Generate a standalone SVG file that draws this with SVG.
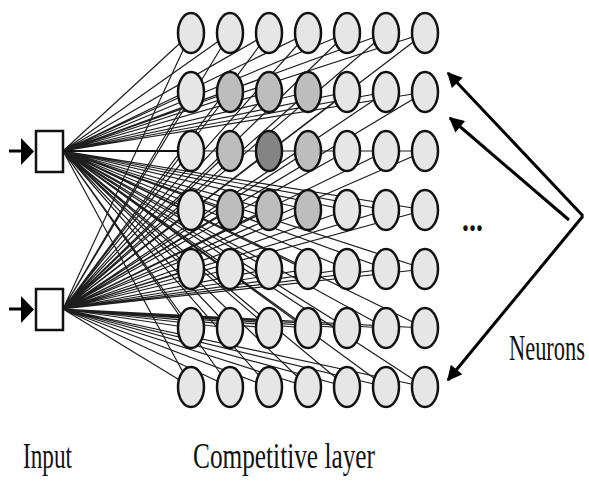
<svg xmlns="http://www.w3.org/2000/svg" width="589" height="481" viewBox="0 0 589 481">
<style>
.n{stroke:#111;stroke-width:2.5}
.l{fill:#e6e6e6}.m{fill:#bdbdbd}.d{fill:#848484}
.c{fill:none;stroke:#1e1e1e;stroke-width:1.2}
.a{fill:none;stroke:#000;stroke-width:3}
.t{font-family:"Liberation Serif","Times New Roman",serif;font-size:36px;fill:#111}
</style>
<defs>
<marker id="ah" viewBox="0 0 10 10" refX="9" refY="5" markerWidth="6" markerHeight="5" markerUnits="strokeWidth" orient="auto"><path d="M0 0L10 5L0 10Z" fill="#000"/></marker>
</defs>
<rect width="589" height="481" fill="#fff"/>
<g id="connectors">
<path class="c" d="M63 151L191 33M63 151L230 33M63 151L269 33M63 151L308 33M63 151L347 33M63 151L386 33M63 151L425 33M63 151L191 92M63 151L230 92M63 151L269 92M63 151L308 92M63 151L347 92M63 151L386 92M63 151L425 92M63 151L425 151M63 151L191 210M63 151L230 210M63 151L269 210M63 151L308 210M63 151L347 210M63 151L386 210M63 151L425 210M63 151L191 269M63 151L230 269M63 151L269 269M63 151L308 269M63 151L347 269M63 151L386 269M63 151L425 269M63 151L191 328M63 151L230 328M63 151L269 328M63 151L308 328M63 151L347 328M63 151L386 328M63 151L425 328M63 151L191 387M63 151L230 387M63 151L269 387M63 151L308 387M63 151L347 387M63 151L386 387M63 151L425 387"/>
<path class="c" d="M63 309L191 33M63 309L230 33M63 309L269 33M63 309L308 33M63 309L347 33M63 309L386 33M63 309L425 33M63 309L191 92M63 309L230 92M63 309L269 92M63 309L308 92M63 309L347 92M63 309L386 92M63 309L425 92M63 309L191 151M63 309L230 151M63 309L269 151M63 309L308 151M63 309L347 151M63 309L386 151M63 309L425 151M63 309L191 210M63 309L230 210M63 309L269 210M63 309L308 210M63 309L347 210M63 309L386 210M63 309L425 210M63 309L191 269M63 309L230 269M63 309L269 269M63 309L308 269M63 309L347 269M63 309L386 269M63 309L425 269M63 309L191 328M63 309L230 328M63 309L269 328M63 309L308 328M63 309L347 328M63 309L386 328M63 309L425 328M63 309L191 387M63 309L230 387M63 309L269 387M63 309L308 387M63 309L347 387M63 309L386 387M63 309L425 387"/>
<path d="M63 151L191 151" stroke="#111" stroke-width="2" fill="none"/>
<path class="a" d="M9 151H24" /><path d="M21 138L34 151.5L21 165Z" fill="#000"/>
<path class="a" d="M9 309H24" /><path d="M21 296L34 309.5L21 323Z" fill="#000"/>
<path class="a" d="M583 216L448 73" marker-end="url(#ah)"/>
<path class="a" d="M569 220L450 118" marker-end="url(#ah)"/>
<path class="a" d="M583 216L448 380" marker-end="url(#ah)"/>
</g>
<g id="input1"><rect x="36" y="131" width="27" height="41" fill="#fff" stroke="#111" stroke-width="2.5"/></g>
<g id="input2"><rect x="36" y="289" width="27" height="41" fill="#fff" stroke="#111" stroke-width="2.5"/></g>
<g id="r1">
<g id="n11"><ellipse class="n l" cx="191" cy="33" rx="13" ry="20"/></g>
<g id="n12"><ellipse class="n l" cx="230" cy="33" rx="13" ry="20"/></g>
<g id="n13"><ellipse class="n l" cx="269" cy="33" rx="13" ry="20"/></g>
<g id="n14"><ellipse class="n l" cx="308" cy="33" rx="13" ry="20"/></g>
<g id="n15"><ellipse class="n l" cx="347" cy="33" rx="13" ry="20"/></g>
<g id="n16"><ellipse class="n l" cx="386" cy="33" rx="13" ry="20"/></g>
<g id="n17"><ellipse class="n l" cx="425" cy="33" rx="13" ry="20"/></g>
</g>
<g id="r2">
<g id="n21"><ellipse class="n l" cx="191" cy="92" rx="13" ry="20"/></g>
<g id="n22"><ellipse class="n m" cx="230" cy="92" rx="13" ry="20"/></g>
<g id="n23"><ellipse class="n m" cx="269" cy="92" rx="13" ry="20"/></g>
<g id="n24"><ellipse class="n m" cx="308" cy="92" rx="13" ry="20"/></g>
<g id="n25"><ellipse class="n l" cx="347" cy="92" rx="13" ry="20"/></g>
<g id="n26"><ellipse class="n l" cx="386" cy="92" rx="13" ry="20"/></g>
<g id="n27"><ellipse class="n l" cx="425" cy="92" rx="13" ry="20"/></g>
</g>
<g id="r3">
<g id="n31"><ellipse class="n l" cx="191" cy="151" rx="13" ry="20"/></g>
<g id="n32"><ellipse class="n m" cx="230" cy="151" rx="13" ry="20"/></g>
<g id="n33"><ellipse class="n d" cx="269" cy="151" rx="13" ry="20"/></g>
<g id="n34"><ellipse class="n m" cx="308" cy="151" rx="13" ry="20"/></g>
<g id="n35"><ellipse class="n l" cx="347" cy="151" rx="13" ry="20"/></g>
<g id="n36"><ellipse class="n l" cx="386" cy="151" rx="13" ry="20"/></g>
<g id="n37"><ellipse class="n l" cx="425" cy="151" rx="13" ry="20"/></g>
</g>
<g id="r4">
<g id="n41"><ellipse class="n l" cx="191" cy="210" rx="13" ry="20"/></g>
<g id="n42"><ellipse class="n m" cx="230" cy="210" rx="13" ry="20"/></g>
<g id="n43"><ellipse class="n m" cx="269" cy="210" rx="13" ry="20"/></g>
<g id="n44"><ellipse class="n m" cx="308" cy="210" rx="13" ry="20"/></g>
<g id="n45"><ellipse class="n l" cx="347" cy="210" rx="13" ry="20"/></g>
<g id="n46"><ellipse class="n l" cx="386" cy="210" rx="13" ry="20"/></g>
<g id="n47"><ellipse class="n l" cx="425" cy="210" rx="13" ry="20"/></g>
</g>
<g id="r5">
<g id="n51"><ellipse class="n l" cx="191" cy="269" rx="13" ry="20"/></g>
<g id="n52"><ellipse class="n l" cx="230" cy="269" rx="13" ry="20"/></g>
<g id="n53"><ellipse class="n l" cx="269" cy="269" rx="13" ry="20"/></g>
<g id="n54"><ellipse class="n l" cx="308" cy="269" rx="13" ry="20"/></g>
<g id="n55"><ellipse class="n l" cx="347" cy="269" rx="13" ry="20"/></g>
<g id="n56"><ellipse class="n l" cx="386" cy="269" rx="13" ry="20"/></g>
<g id="n57"><ellipse class="n l" cx="425" cy="269" rx="13" ry="20"/></g>
</g>
<g id="r6">
<g id="n61"><ellipse class="n l" cx="191" cy="328" rx="13" ry="20"/></g>
<g id="n62"><ellipse class="n l" cx="230" cy="328" rx="13" ry="20"/></g>
<g id="n63"><ellipse class="n l" cx="269" cy="328" rx="13" ry="20"/></g>
<g id="n64"><ellipse class="n l" cx="308" cy="328" rx="13" ry="20"/></g>
<g id="n65"><ellipse class="n l" cx="347" cy="328" rx="13" ry="20"/></g>
<g id="n66"><ellipse class="n l" cx="386" cy="328" rx="13" ry="20"/></g>
<g id="n67"><ellipse class="n l" cx="425" cy="328" rx="13" ry="20"/></g>
</g>
<g id="r7">
<g id="n71"><ellipse class="n l" cx="191" cy="387" rx="13" ry="20"/></g>
<g id="n72"><ellipse class="n l" cx="230" cy="387" rx="13" ry="20"/></g>
<g id="n73"><ellipse class="n l" cx="269" cy="387" rx="13" ry="20"/></g>
<g id="n74"><ellipse class="n l" cx="308" cy="387" rx="13" ry="20"/></g>
<g id="n75"><ellipse class="n l" cx="347" cy="387" rx="13" ry="20"/></g>
<g id="n76"><ellipse class="n l" cx="386" cy="387" rx="13" ry="20"/></g>
<g id="n77"><ellipse class="n l" cx="425" cy="387" rx="13" ry="20"/></g>
</g>
<g id="labels">
<text class="t" x="462" y="231" font-weight="bold" textLength="21" lengthAdjust="spacingAndGlyphs">...</text>
<text class="t" transform="translate(509 360) scale(1 1.58)" style="font-size:23px" textLength="76" lengthAdjust="spacingAndGlyphs">Neurons</text>
<text class="t" x="23" y="468" textLength="49" lengthAdjust="spacingAndGlyphs">Input</text>
<text class="t" x="193" y="468" textLength="182" lengthAdjust="spacingAndGlyphs">Competitive layer</text>
</g>
</svg>
